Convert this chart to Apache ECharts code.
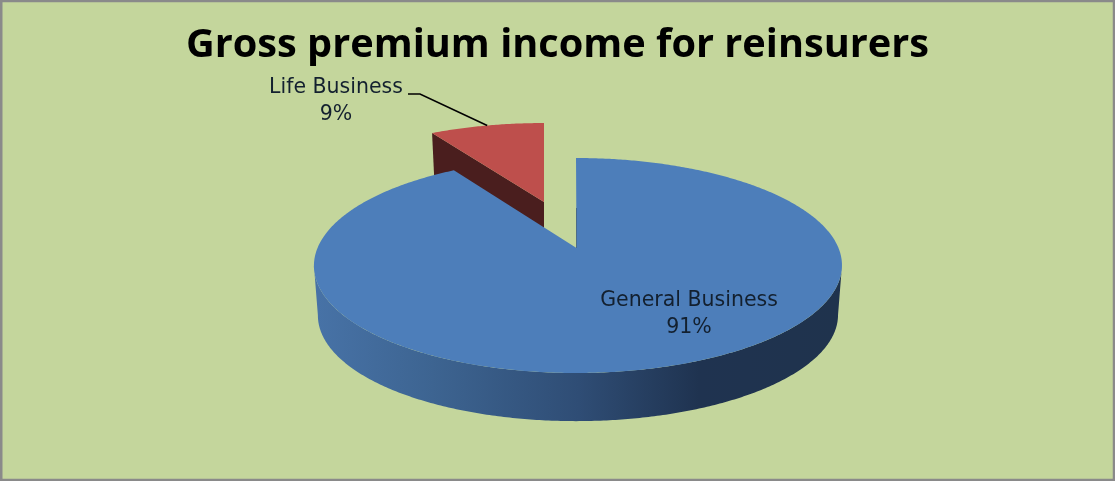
<!DOCTYPE html>
<html>
<head>
<meta charset="utf-8">
<style>html,body{margin:0;padding:0;background:#C4D69C}#c{width:1115px;height:481px}</style>
<script src="https://cdn.jsdelivr.net/npm/echarts@6/dist/echarts.min.js"></script>
</head>
<body>
<div id="c"></div>
<script>
const titleText = 'Gross premium income for reinsurers';
const categories = ['General Business', 'Life Business'];
const shares = [91, 9];

const total = shares.reduce((a, b) => a + b, 0);
const TAU = Math.PI * 2;

// Perspective placement of each slice's top face; extrusion to the lower face.
const views = [
  { cx: 578, cy: 248, A: 260.5, B: 104.65, k: 0.1628, depth: 50, scale: 0.985, lean: 2 },
  { cx: 544, cy: 202, A: 257.4, B: 100.7, k: 0.275, depth: 42, scale: 0.99, lean: 0 }
];
const colors = [
  { top: '#4D7EBA', side: '#25405F' },
  { top: '#BE4F4C', side: '#4A1E1E' }
];
const labelBoxes = [
  { x: 689, y1: 301, y2: 328 },
  { x: 336, y1: 88, y2: 115 }
];
const labelFont = '20.5px "DejaVu Sans"';

function project(v, theta, lower) {
  const u = Math.sin(theta), w = -Math.cos(theta);
  const d = 1 - v.k * w;
  let x = v.A * u / d - v.lean * w * w, y = v.B * w / d;
  if (lower) { x *= v.scale; y = y * v.scale + v.depth; }
  return [v.cx + x, v.cy + y];
}
function arc(v, a0, a1, lower) {
  const n = Math.max(2, Math.ceil(Math.abs(a1 - a0) / 0.01));
  const pts = [];
  for (let i = 0; i <= n; i++) pts.push(project(v, a0 + (a1 - a0) * i / n, lower));
  return pts;
}
function renderSlice(params, api) {
  const i = params.dataIndex;
  const v = views[i], c = colors[i];
  const before = shares.slice(0, i).reduce((a, b) => a + b, 0);
  const a0 = before / total * TAU;
  const a1 = (before + api.value(0)) / total * TAU;
  const apex = [v.cx - v.lean * 0.75, v.cy];
  const children = [];
  if (i === 0) {
    // outer wall: front half only, between the silhouette angles
    const e = Math.asin(v.k);
    const s0 = Math.PI / 2 + e, s1 = Math.PI * 1.5 - e;
    const wall = arc(v, s0, s1, false).concat(arc(v, s1, s0, true));
    children.push({
      type: 'polygon', z2: 3, shape: { points: wall },
      style: {
        fill: {
          type: 'linear', global: true, x: 318, y: 0, x2: 840, y2: 0,
          colorStops: [
            { offset: 0, color: '#4772A6' },
            { offset: 0.22, color: '#3D6491' },
            { offset: 0.5, color: '#2F4D75' },
            { offset: 0.73, color: '#1F3350' },
            { offset: 1, color: '#1F334D' }
          ]
        }
      }
    });
  } else {
    // cut face seen from the viewer, running from the outer corner to the apex
    const corner = project(v, a0, false);
    const face = [corner, apex, [apex[0], apex[1] + v.depth], [corner[0] + 2, corner[1] + v.depth]];
    children.push({ type: 'polygon', z2: 1, shape: { points: face }, style: { fill: c.side } });
  }
  const top = [apex].concat(arc(v, a0, a1, false));
  children.push({
    type: 'polygon', z2: i === 0 ? 4 : 2, shape: { points: top },
    style: { fill: c.top }
  });
  if (i === 0) {
    children.push({
      type: 'line', z2: 5,
      shape: { x1: apex[0], y1: apex[1], x2: apex[0], y2: apex[1] - 40 },
      style: { stroke: '#2B4A70', lineWidth: 1, opacity: 0.6 }
    });
  }
  const b = labelBoxes[i];
  const pct = Math.round(api.value(0) / total * 100) + '%';
  [[categories[i], b.y1], [pct, b.y2]].forEach(function (t) {
    children.push({
      type: 'text', z2: 8,
      style: { text: t[0], x: b.x, y: t[1], fill: '#13202F', font: labelFont, align: 'center', verticalAlign: 'middle' }
    });
  });
  if (i === 1) {
    const mid = project(v, (a0 + a1) / 2, false);
    children.push({
      type: 'polyline', z2: 7,
      shape: { points: [[408, 94], [420, 94], mid] },
      style: { stroke: '#000', lineWidth: 1.6, fill: null }
    });
  }
  return { type: 'group', children: children };
}

const chart = echarts.init(document.getElementById('c'), null, { renderer: 'canvas' });
chart.setOption({
  animation: false,
  backgroundColor: '#C4D69C',
  title: {
    text: titleText, left: 'center', top: 21,
    textStyle: { fontFamily: 'Open Sans', fontWeight: 'bold', fontSize: 39.7, color: '#000' }
  },
  graphic: [{
    type: 'rect', silent: true, z: 100,
    shape: { x: 1.25, y: 1, width: 1112.75, height: 479 },
    style: { fill: null, stroke: '#8A8A8A', lineWidth: 2.5 }
  }],
  series: [{
    type: 'custom',
    coordinateSystem: 'none',
    renderItem: renderSlice,
    data: categories.map((name, i) => ({ name: name, value: [shares[i]] }))
  }]
});
</script>
</body>
</html>
